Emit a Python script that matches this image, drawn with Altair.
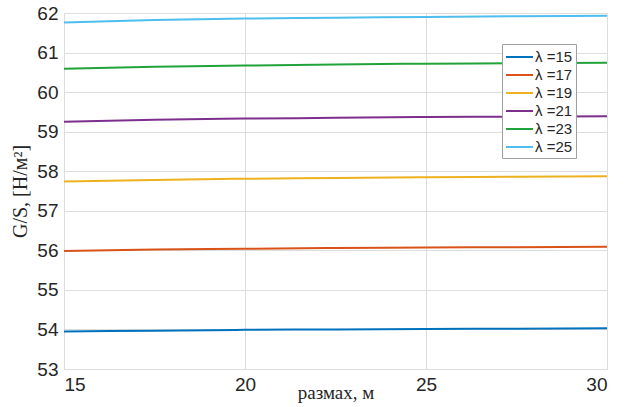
import altair as alt
import pandas as pd

span = [15, 17.5, 20, 22.5, 25, 27.5, 30]
lam_labels = ["λ =15", "λ =17", "λ =19", "λ =21", "λ =23", "λ =25"]
g15 = [53.95, 53.97, 53.99, 54.00, 54.01, 54.02, 54.03]
g17 = [55.98, 56.02, 56.04, 56.06, 56.07, 56.08, 56.09]
g19 = [57.74, 57.78, 57.81, 57.83, 57.85, 57.86, 57.87]
g21 = [59.25, 59.30, 59.33, 59.35, 59.37, 59.38, 59.39]
g23 = [60.59, 60.64, 60.67, 60.70, 60.72, 60.73, 60.74]
g25 = [61.76, 61.82, 61.86, 61.88, 61.90, 61.92, 61.93]
series = [g15, g17, g19, g21, g23, g25]
colors = ["#0072BD", "#D95319", "#EDB120", "#7E2F8E", "#22A33A", "#4DBEEE"]
x_ticks = [15, 20, 25, 30]
y_ticks = [53, 54, 55, 56, 57, 58, 59, 60, 61, 62]

rows = []
for lab, vals in zip(lam_labels, series):
    for x, v in zip(span, vals):
        rows.append({"span": x, "gs": v, "lam": lab})
df = pd.DataFrame(rows)

lines = alt.Chart(df).mark_line(strokeWidth=2, interpolate="monotone").encode(
    x=alt.X("span:Q", scale=alt.Scale(domain=[15, 30], nice=False),
            axis=alt.Axis(values=x_ticks, title="размах, м", labelFontSize=19,
                          titleFont="Liberation Serif", titleFontSize=19,
                          titleFontWeight="normal", titlePadding=-11,
                          labelPadding=6, ticks=False, domain=False,
                          labelColor="#262626", titleColor="#262626",
                          labelFont="Liberation Sans")),
    y=alt.Y("gs:Q", scale=alt.Scale(domain=[53, 62], nice=False, zero=False),
            axis=alt.Axis(values=y_ticks, title="G/S,  [Н/м²]", labelFontSize=19,
                          titleFont="Liberation Serif", titleFontSize=20,
                          titleFontWeight="normal", titlePadding=6,
                          labelPadding=6, ticks=False, domain=False,
                          labelColor="#262626", titleColor="#262626",
                          labelFont="Liberation Sans")),
    color=alt.Color("lam:N", sort=lam_labels,
                    scale=alt.Scale(domain=lam_labels, range=colors),
                    legend=alt.Legend(title=None, orient="none", legendX=438, legendY=31,
                                      symbolType="M-1,0H2", symbolSize=324,
                                      symbolStrokeWidth=2, labelOffset=10,
                                      labelFontSize=15, labelFont="Liberation Sans",
                                      labelColor="#262626", padding=3, rowPadding=0,
                                      strokeColor="#a0a0a0", fillColor="white")),
)

chart = lines.properties(
    width=543, height=356,
    autosize=alt.AutoSizeParams(type="none"),
    padding={"left": 64, "top": 13, "right": 21, "bottom": 38},
).configure_view(stroke="#a0a0a0", strokeWidth=1).configure_axis(
    gridColor="#e8e8e8", gridWidth=1
).configure(background="white")

chart.save("out.html", embed_options={"renderer": "svg", "actions": False})
